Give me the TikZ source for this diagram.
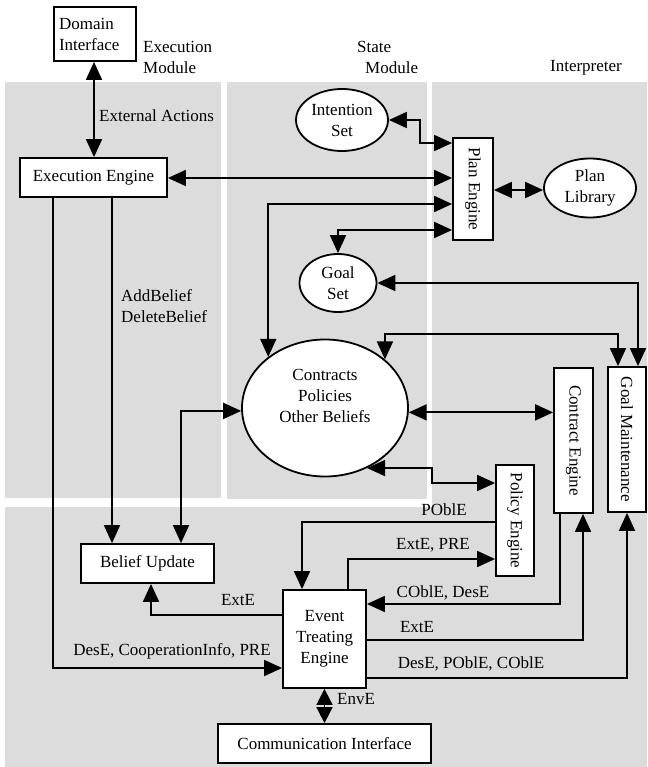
\documentclass[tikz,border=0pt]{standalone}
\usepackage{fontspec}
\setmainfont{Liberation Serif}
\usetikzlibrary{arrows.meta,shapes.geometric}
\definecolor{panelgray}{RGB}{220,220,220}
\begin{document}
\begin{tikzpicture}[x=1pt,y=-1pt,
  font=\fontsize{17}{21}\selectfont,
  box/.style={draw, line width=1.8pt, fill=white, inner sep=0pt},
  oval/.style={draw, ellipse, line width=1.8pt, fill=white, inner sep=0pt, align=center},
  tip/.tip={Triangle[length=18pt,width=16pt]},
  shorttip/.tip={Triangle[length=16pt,width=16pt]},
  link/.style={line width=1.8pt, -tip},
  both/.style={line width=1.8pt, tip-tip},
  lbl/.style={inner sep=0pt}
]
\useasboundingbox (0,0) rectangle (647,767);

% module panels
\fill[panelgray] (5,82) rectangle (221,498);
\fill[panelgray] (227,82) rectangle (427,499);
\fill[panelgray] (432,82) rectangle (647,767);
\fill[panelgray] (5,507) rectangle (647,767);

% module titles
\node[lbl, anchor=west, align=left] (emod) at (143,57) {Execution\\Module};
\node[lbl, anchor=west, align=left] (smod) at (357,57) {State\\\hspace*{8pt}Module};
\node[lbl] (interp) at (586,68) {Interpreter};

% components
\node[box, minimum width=82pt, minimum height=54pt, text width=72pt, align=left] (dom) at (95,34) {Domain\\Interface};
\node[box, minimum width=147pt, minimum height=39pt] (exe) at (93.5,177.5) {Execution Engine};
\node[box, minimum width=40pt, minimum height=102pt] (pe) at (473,189) {\rotatebox{-90}{Plan Engine}};
\node[oval, minimum width=92pt, minimum height=62pt] (is) at (342,120) {Intention\\Set};
\node[oval, minimum width=92pt, minimum height=59pt] (pl) at (590,188) {Plan\\Library};
\node[oval, minimum width=77pt, minimum height=58pt] (gs) at (338,283) {Goal\\Set};
\node[oval, minimum width=166pt, minimum height=137pt] (cpo) at (325,408) {};
\node[lbl, align=center] (cpotext) at (325,396) {Contracts\\Policies\\Other Beliefs};
\node[box, minimum width=39pt, minimum height=145pt] (ce) at (573.5,440.5) {\rotatebox{-90}{Contract Engine}};
\node[box, minimum width=38pt, minimum height=145pt] (gm) at (627,439.5) {\rotatebox{-90}{Goal Maintenance}};
\node[box, minimum width=38pt, minimum height=111pt] (pol) at (515,520.5) {\rotatebox{-90}{Policy Engine}};
\node[box, minimum width=133pt, minimum height=39pt] (bu) at (147.5,563.5) {Belief Update};
\node[box, minimum width=83pt, minimum height=98pt, align=center] (ete) at (324.5,639) {Event\\Treating\\Engine};
\node[box, minimum width=213pt, minimum height=39pt] (ci) at (324.5,743.5) {Communication Interface};

% execution module links
\draw[both] (94,0 |- dom.south) -- (94,0 |- exe.north);
\node[lbl, anchor=west] (ea) at (99,116) {External Actions};
\draw[both] (exe.east |- 0,178) -- (pe.west |- 0,178);
\draw[link] (112,0 |- exe.south) -- (112,0 |- bu.north);
\node[lbl, anchor=west, align=left] (adb) at (121,306) {AddBelief\\DeleteBelief};
\draw[link] (53,0 |- exe.south) |- (ete.west |- 0,668);
\node[lbl] (dcp) at (172,651) {DesE, CooperationInfo, PRE};

% state module links
\draw[both] (is.east) -| (420,143) -- (pe.west |- 0,143);
\draw[both] (pe.east |- 0,190) -- (pl.west |- 0,190);
\draw[both] (pe.west |- 0,204) -| (cpo.138);
\draw[both] (pe.west |- 0,230) -| (gs.north);
\draw[both] (gs.east) -| (638,0 |- gm.north);
\draw[both] (cpo.39) |- (618,334) -- (618,0 |- gm.north);
\draw[both] (cpo.-3) -- (ce.west |- cpo.-3);
\draw[both] (cpo.-55) -| (432,483) -- (pol.west |- 0,483);
\draw[both] (cpo.182) -| (181,0 |- bu.north);

% event treating links
\draw[link] (ete.west |- 0,615) -| (151,0 |- bu.south);
\node[lbl] (l1) at (238,600) {ExtE};
\draw[link] (pol.west |- 0,522) -| (302,0 |- ete.north);
\node[lbl] (l2) at (444,510) {POblE};
\draw[link] (348,0 |- ete.north) |- (pol.west |- 0,559);
\node[lbl] (l3) at (433,545) {ExtE, PRE};
\draw[link] (560,0 |- ce.south) |- (ete.east |- 0,604);
\node[lbl] (l4) at (443,593) {COblE, DesE};
\draw[link] (ete.east |- 0,640) -| (583,0 |- ce.south);
\node[lbl] (l5) at (417,627) {ExtE};
\draw[link] (ete.east |- 0,678) -| (gm.south);
\node[lbl] (l6) at (471,664) {DesE, POblE, COblE};
\draw[line width=1.8pt, shorttip-shorttip] (ete.south) -- (ci.north);
\node[lbl, anchor=west] (l7) at (337,699) {EnvE};
\end{tikzpicture}
\end{document}
